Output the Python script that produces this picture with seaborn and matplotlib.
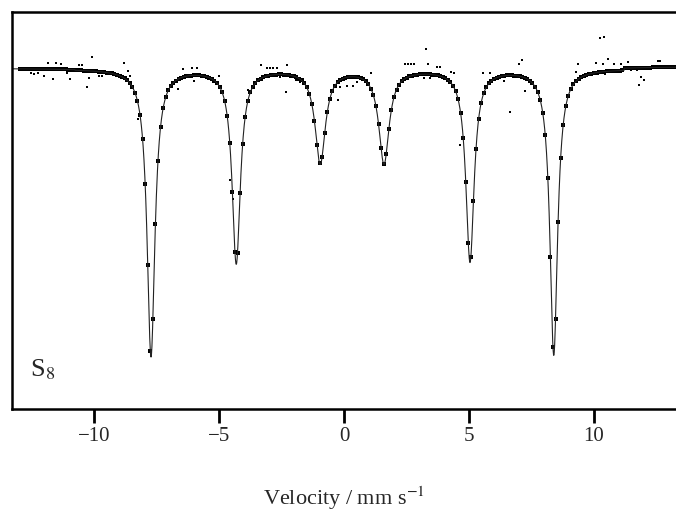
import numpy as np
import pandas as pd
import matplotlib
matplotlib.use("Agg")
import matplotlib.pyplot as plt
import seaborn as sns

# fitted sextet
line_pos = [-7.72, -4.31, -0.95, 1.60, 5.04, 8.39]      # mm/s
line_depth = [0.169, 0.114, 0.055, 0.055, 0.113, 0.168]
line_width = [0.38, 0.40, 0.50, 0.50, 0.40, 0.37]        # FWHM, mm/s

# baseline levels between the small steps seen in the data
base_edges = [-13.28, -10.76, 11.2, 13.28]
base_level = [0.9998, 0.9995, 1.0008]

n_channels = 256

tick_pos = [-10, -5, 0, 5, 10]
tick_lab = ["\u221210", "\u22125", "0", "5", "10"]

# stray data points away from the fit
out_v = [-11.85, -11.52, -11.32, -12.52, -12.39, -12.25, -11.99, -11.65, -11.09, -10.96,
         -10.60, -10.47, -10.07, -10.20, -10.27, -9.79, -9.69, -8.80, -8.63, -8.56,
         -6.63, -6.45, -6.09, -5.89, -6.00, -5.00, -3.32, -3.09, -2.96, -2.83,
         -2.69, -2.27, -2.33, -2.56, -1.92, -1.76, -3.83, 3.28, 2.44, 2.57,
         2.68, 2.80, 3.37, 3.71, 3.84, 3.21, 3.44, -0.05, 0.04, 0.44,
         0.51, 0.80, 0.11, 0.35, 1.07, 4.27, 4.40, 5.57, 5.84, 6.11,
         6.40, 10.24, 10.41, 7.01, 7.11, 7.25, 9.28, 9.35, 10.08, 10.35,
         10.55, 10.81, 11.08, 10.45, 11.35, 11.48, 11.72, 11.88, 12.01, 11.81,
         12.55, 12.64, -4.56, -4.43, -8.23, -0.23, -0.16, 4.64, 6.64]
out_T = [1.0031, 1.0028, 1.0022, 0.9969, 0.9963, 0.9972, 0.9953, 0.9934, 0.9972, 0.9934,
         1.0018, 1.0016, 1.0063, 0.9939, 0.9890, 0.9953, 0.9953, 1.0031, 0.9982, 0.9953,
         0.9875, 0.9992, 1.0002, 0.9998, 0.9924, 0.9953, 1.0018, 1.0002, 0.9998, 1.0002,
         0.9998, 1.0018, 0.9861, 0.9949, 0.9929, 0.9919, 0.9871, 1.0112, 1.0022, 1.0022,
         1.0022, 1.0022, 1.0022, 1.0004, 1.0008, 0.9939, 0.9939, 0.9939, 0.9939, 0.9939,
         0.9919, 0.9939, 0.9894, 0.9894, 0.9972, 0.9978, 0.9969, 0.9972, 0.9969, 0.9939,
         0.9925, 1.0175, 1.0184, 1.0022, 1.0047, 0.9866, 0.9978, 1.0024, 1.0028, 1.0024,
         1.0051, 1.0024, 1.0024, 0.9963, 1.0037, 0.9988, 0.9988, 0.9945, 0.9929, 0.9900,
         1.0041, 1.0041, 0.9341, 0.9229, 0.9700, 0.9812, 0.9890, 0.9547, 0.9743]


def spectrum(v):
    idx = np.clip(np.searchsorted(base_edges, v, side="right") - 1, 0, len(base_level) - 1)
    t = np.array(base_level)[idx]
    for p, d, w in zip(line_pos, line_depth, line_width):
        t = t - d / (1 + (2 * (v - p) / w) ** 2)
    return t


v_fit = np.linspace(base_edges[0], base_edges[-1], 3000)
fit = pd.DataFrame({"v": v_fit, "T": spectrum(v_fit)})
v_ch = np.linspace(base_edges[0] + 0.3, base_edges[-1] - 0.1, n_channels)
chan = pd.DataFrame({"v": v_ch, "T": spectrum(v_ch)})
stray = pd.DataFrame({"v": out_v, "T": out_T})

sns.set_style("ticks")
plt.rcParams["font.family"] = ["Liberation Serif", "DejaVu Serif"]
plt.rcParams["mathtext.fontset"] = "stix"

fig = plt.figure(figsize=(6.76, 5.16), dpi=100)
ax = fig.add_axes([12 / 676, 107 / 516, 664 / 676, 397 / 516])

sns.lineplot(data=fit, x="v", y="T", ax=ax, color="#222222", linewidth=0.8)
sns.scatterplot(data=chan, x="v", y="T", ax=ax, color="black", marker="s", s=5,
                linewidth=0)
sns.scatterplot(data=stray, x="v", y="T", ax=ax, color="black", marker="s", s=2.5,
                linewidth=0)

ax.set_xlim(-13.28, 13.28)
ax.set_ylim(0.7994, 1.0329)
ax.set_xticks(tick_pos)
ax.set_xticklabels(tick_lab)
ax.set_yticks([])
ax.tick_params(axis="x", direction="out", length=10, width=2, color="black",
               labelsize=15, pad=3)
for s in ["left", "top", "bottom"]:
    ax.spines[s].set_visible(True)
    ax.spines[s].set_linewidth(1.8)
    ax.spines[s].set_color("black")
ax.spines["right"].set_visible(False)

ax.set_xlabel("Velocity / mm s$^{-1}$", fontsize=16, labelpad=28)
ax.set_ylabel("")
ax.text(0.027, 0.082, r"S$_{\mathrm{8}}$", transform=ax.transAxes, fontsize=19)

fig.savefig("out.png", dpi=100)
